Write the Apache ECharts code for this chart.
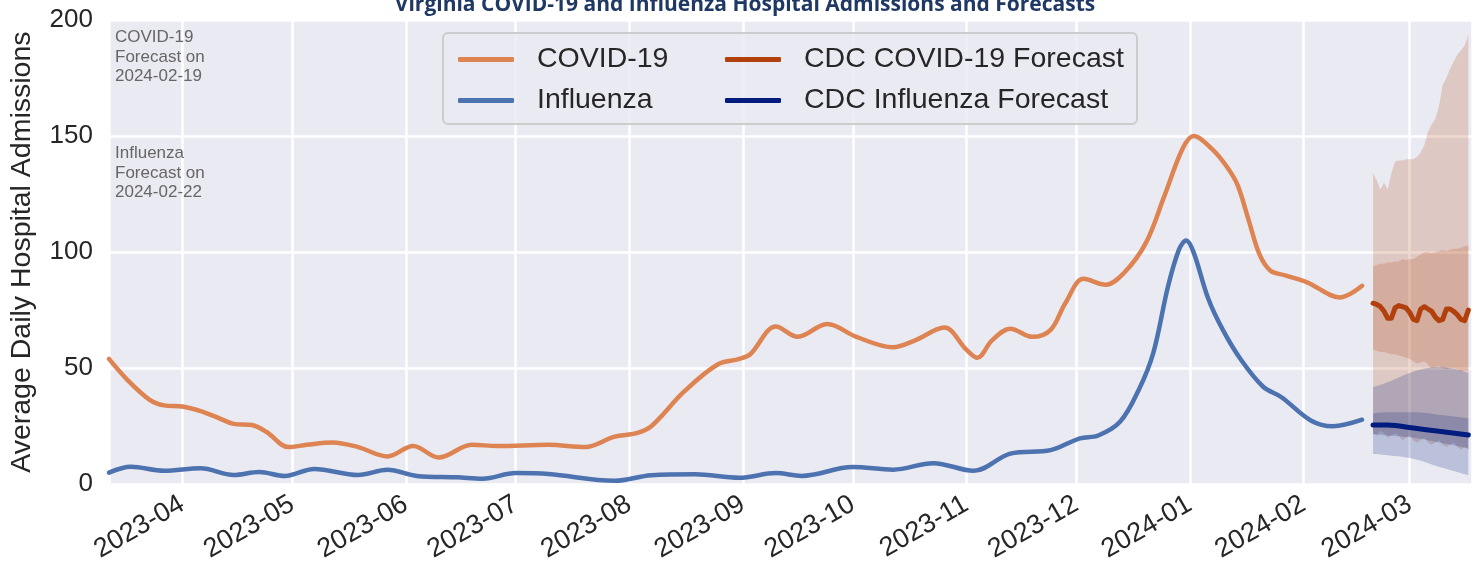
<!DOCTYPE html>
<html>
<head>
<meta charset="utf-8">
<script src="https://cdn.jsdelivr.net/npm/echarts@6/dist/echarts.min.js"></script>
<style>
  html, body { margin: 0; padding: 0; background: #fff; }
  #chart { width: 1476px; height: 565px; }
</style>
</head>
<body>
<div id="chart"></div>
<script>
const covidDates = ['2023-03-12','2023-03-17','2023-03-23','2023-03-27','2023-04-01','2023-04-06','2023-04-11','2023-04-15','2023-04-20','2023-04-24','2023-04-30','2023-05-05','2023-05-12','2023-05-19','2023-05-27','2023-06-03','2023-06-10','2023-06-19','2023-06-26','2023-07-10','2023-07-20','2023-07-28','2023-08-03','2023-08-07','2023-08-16','2023-08-25','2023-08-31','2023-09-03','2023-09-10','2023-09-16','2023-09-24','2023-10-02','2023-10-12','2023-10-18','2023-10-26','2023-11-01','2023-11-04','2023-11-08','2023-11-13','2023-11-19','2023-11-24','2023-11-28','2023-12-03','2023-12-09','2023-12-14','2023-12-20','2023-12-25','2023-12-30','2024-01-02','2024-01-07','2024-01-11','2024-01-14','2024-01-17','2024-01-20','2024-01-23','2024-01-27','2024-02-02','2024-02-11','2024-02-17'];
const covidValues = [54,45,36.5,34,33.5,31.5,28.5,26,25.5,22.5,16,17,18,16,12,16.5,11.5,17,16.5,17,16,20.5,22,25,40,51.5,54,56,68,63.5,69,63.5,59,62,67.5,58,54.5,62,67,63.5,66.5,78,88.5,86,91,104,124,144.5,150,144.5,137,129,114,99,92,90,87,80.5,85.5];

const fluDates = ['2023-03-12','2023-03-18','2023-03-27','2023-04-06','2023-04-15','2023-04-22','2023-04-29','2023-05-07','2023-05-19','2023-05-27','2023-06-04','2023-06-15','2023-06-22','2023-07-01','2023-07-10','2023-07-28','2023-08-07','2023-08-19','2023-08-31','2023-09-10','2023-09-17','2023-10-01','2023-10-12','2023-10-23','2023-11-03','2023-11-13','2023-11-24','2023-12-02','2023-12-07','2023-12-13','2023-12-18','2023-12-22','2023-12-26','2023-12-29','2023-12-31','2024-01-02','2024-01-06','2024-01-10','2024-01-15','2024-01-21','2024-01-26','2024-02-03','2024-02-09','2024-02-17'];
const fluValues = [5,7.5,5.8,6.9,4,5.3,3.6,6.6,4,6.2,3.6,3,2.4,4.8,4.4,1.5,3.9,4.3,2.8,4.8,3.6,7.4,6.3,9.1,5.8,13.2,14.7,19.8,21,27,40.5,56.5,85,101,105,100,80,66.5,53.5,42,37.5,27.5,25,27.8];

// CDC COVID-19 forecast (daily)
const covidFcDates = ['2024-02-20','2024-02-21','2024-02-22','2024-02-23','2024-02-24','2024-02-25','2024-02-26','2024-02-27','2024-02-28','2024-02-29','2024-03-01','2024-03-02','2024-03-03','2024-03-04','2024-03-05','2024-03-06','2024-03-07','2024-03-08','2024-03-09','2024-03-10','2024-03-11','2024-03-12','2024-03-13','2024-03-14','2024-03-15','2024-03-16','2024-03-17'];
const covidFcMedian = [78,77.5,76.5,74.5,71.5,71.5,76,77,76.5,76,74,71,70.5,75.5,76.5,75.5,74.5,72,70.5,71,75.5,75.5,74.5,73,71,70.5,75];
const covidFcUpper95 = [134,131,127,130,127,134,139,139.5,139.5,140,140,140,141,143,146,152,155,157.5,163,172,175,179,182,185,187,189,193.5];
const covidFcUpper50 = [94,94.5,95,95,95.5,95.5,96,96,97,96.5,97,97,98,99,100,100,99.5,100,100.5,101,100.5,101,101.5,101.5,102,102.5,103];
const covidFcLower50 = [58,57.5,57,57,56.5,56,56,55.5,55,54.5,54,53,52,52.5,53,51.5,50,50.5,51,50,49.5,50,50,49.5,48.5,49,49];
const covidFcLower95 = [22,21,23,22,20,21,22,21,19,20,21,19,18,19,20,18,17,18,19,17,16,17,18,16,15,16,15];

// CDC Influenza forecast
const fluFcDates = ['2024-02-20','2024-02-24','2024-03-02','2024-03-09','2024-03-17'];
const fluFcMedian = [25.5,25.5,24.2,22.8,21.2];
const fluFcUpper95 = [42,44,48.5,50.5,48];
const fluFcUpper50 = [30.5,31,31,30,28.5];
const fluFcLower50 = [21.5,21,20,18,15.5];
const fluFcLower95 = [13,12.5,11,7.5,3.9];

const yTicks = [0, 50, 100, 150, 200];

const TXT = '#262626';
const FONT = '"Liberation Sans", Arial, sans-serif';

function pairs(dates, vals) { return dates.map((d, i) => [d, vals[i]]); }

function band(id, dates, lo, hi, color, smooth) {
  return [
    { type: 'line', name: id + '-lo', stack: id, data: pairs(dates, lo), symbol: 'none',
      smooth: smooth, lineStyle: { opacity: 0 }, silent: true, z: 1 },
    { type: 'line', name: id + '-hi', stack: id, data: pairs(dates, hi.map((v, i) => v - lo[i])),
      symbol: 'none', smooth: smooth, lineStyle: { opacity: 0 }, silent: true, z: 1,
      areaStyle: { color: color, opacity: 0.2 } }
  ];
}

const chart = echarts.init(document.getElementById('chart'), null, { renderer: 'canvas' });

const series = [
  ...band('c95', covidFcDates, covidFcLower95, covidFcUpper95, '#b1400d', false),
  ...band('c50', covidFcDates, covidFcLower50, covidFcUpper50, '#b1400d', false),
  ...band('f95', fluFcDates, fluFcLower95, fluFcUpper95, '#001c7f', 0.4),
  ...band('f50', fluFcDates, fluFcLower50, fluFcUpper50, '#001c7f', 0.4),
  { type: 'line', name: 'COVID-19', data: pairs(covidDates, covidValues), smooth: 0.35,
    symbol: 'none', color: '#dd8452', lineStyle: { width: 4.5, cap: 'round' }, z: 3 },
  { type: 'line', name: 'Influenza', data: pairs(fluDates, fluValues), smooth: 0.35,
    symbol: 'none', color: '#4c72b0', lineStyle: { width: 4.5, cap: 'round' }, z: 3 },
  { type: 'line', name: 'CDC COVID-19 Forecast', data: pairs(covidFcDates, covidFcMedian),
    symbol: 'none', color: '#b1400d', lineStyle: { width: 5, cap: 'round', join: 'round' }, z: 3 },
  { type: 'line', name: 'CDC Influenza Forecast', data: pairs(fluFcDates, fluFcMedian), smooth: 0.4,
    symbol: 'none', color: '#001c7f', lineStyle: { width: 5, cap: 'round' }, z: 3 }
];

const legendCommon = {
  orient: 'vertical', top: 40, itemWidth: 56, itemHeight: 5, itemGap: 12,
  icon: 'roundRect', selectedMode: false, z: 5,
  textStyle: { fontSize: 28.5, color: TXT, fontFamily: FONT, padding: [0, 0, 0, 18] }
};

chart.setOption({
  animation: false,
  backgroundColor: '#ffffff',
  textStyle: { fontFamily: FONT },
  title: {
    text: 'Virginia COVID-19 and Influenza Hospital Admissions and Forecasts',
    left: 740, textAlign: 'center', top: -10,
    textStyle: { fontSize: 21, fontWeight: 'bold', color: '#1f3864', fontFamily: '"Open Sans", sans-serif' }
  },
  grid: { left: 109, right: 4, top: 20, bottom: 78, show: true, backgroundColor: '#eaeaf2', borderWidth: 0 },
  legend: [
    { ...legendCommon, left: 453, data: ['COVID-19', 'Influenza'] },
    { ...legendCommon, left: 720, data: ['CDC COVID-19 Forecast', 'CDC Influenza Forecast'] }
  ],
  graphic: [
    { type: 'rect', z: 4, shape: { x: 443, y: 33, width: 694, height: 91, r: 5 },
      style: { fill: 'rgba(234,234,242,0.8)', stroke: '#cccccc', lineWidth: 2 } },
    { type: 'text', left: 115, top: 28, z: 4,
      style: { text: 'COVID-19\nForecast on\n2024-02-19', fill: '#666666', font: '17px ' + FONT, lineHeight: 19.5 } },
    { type: 'text', left: 115, top: 144, z: 4,
      style: { text: 'Influenza\nForecast on\n2024-02-22', fill: '#666666', font: '17px ' + FONT, lineHeight: 19.5 } }
  ],
  xAxis: {
    type: 'time', min: '2023-03-12', max: '2024-03-18',
    splitNumber: 12, minInterval: 28 * 86400000, maxInterval: 31 * 86400000,
    axisLine: { show: false }, axisTick: { show: false },
    axisLabel: { rotate: 30, fontSize: 27, color: TXT, margin: 18, formatter: '{yyyy}-{MM}',
      showMinLabel: false, showMaxLabel: false, hideOverlap: false },
    splitLine: { show: true, lineStyle: { color: '#ffffff', width: 2.5 } }
  },
  yAxis: {
    type: 'value', min: yTicks[0], max: yTicks[yTicks.length - 1], interval: 50,
    name: 'Average Daily Hospital Admissions', nameLocation: 'middle', nameGap: 72,
    nameTextStyle: { fontSize: 28.5, color: TXT },
    axisLine: { show: false }, axisTick: { show: false },
    axisLabel: { fontSize: 26, color: TXT, margin: 16 },
    splitLine: { show: true, lineStyle: { color: '#ffffff', width: 2.5 } }
  },
  series: series
});

window.addEventListener('resize', () => chart.resize());
</script>
</body>
</html>
